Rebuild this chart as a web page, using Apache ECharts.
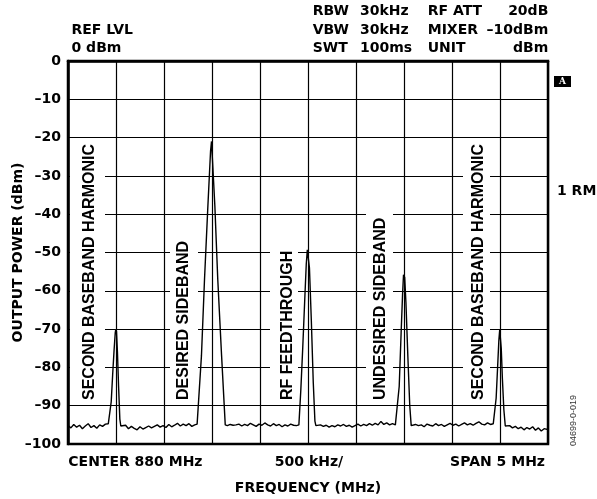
<!DOCTYPE html>
<html>
<head>
<meta charset="utf-8">
<script src="https://cdn.jsdelivr.net/npm/echarts@6/dist/echarts.min.js"></script>
<style>html,body{margin:0;padding:0;background:#fff;}#c{width:597px;height:499px;}</style>
</head>
<body>
<div id="c"></div>
<script>
// ---- data (frequency in MHz, level in dBm) ----
var noiseA = [[877.50,-95.2],[877.53,-95.8],[877.56,-94.9],[877.59,-95.6],[877.62,-95.1],[877.65,-96.0],[877.68,-95.3],[877.71,-94.7],[877.74,-95.7],[877.77,-95.2],[877.80,-95.9],[877.83,-95.0],[877.86,-95.4],[877.89,-94.8],[877.92,-94.7]];
var peak1 = [[877.935,-94.5],[877.95,-89],[877.965,-82],[877.98,-75.5],[877.992,-71],[877.998,-70],[878.005,-70.6],[878.015,-76],[878.027,-85],[878.04,-93.5],[878.05,-95.3]];
var noiseB = [[878.07,-95.6],[878.10,-95.1],[878.13,-96.0],[878.16,-95.4],[878.19,-95.9],[878.22,-96.3],[878.25,-95.5],[878.28,-96.1],[878.31,-95.7],[878.34,-95.3],[878.37,-95.8],[878.40,-95.4],[878.43,-95.0],[878.46,-95.6],[878.49,-95.2],[878.52,-95.7],[878.55,-94.9],[878.58,-95.5],[878.61,-95.1],[878.64,-94.6],[878.67,-95.3],[878.70,-94.8],[878.73,-95.2],[878.76,-94.7],[878.79,-95.4],[878.82,-95.0],[878.845,-94.8]];
var peak2 = [[878.86,-95],[878.89,-77],[878.922,-57],[878.955,-39],[878.985,-23.5],[878.995,-21],[879.003,-21.2],[879.03,-38],[879.06,-57],[879.10,-77],[879.138,-95]];
var noiseC = [[879.16,-95.2],[879.19,-94.9],[879.22,-95.1],[879.25,-95.0],[879.28,-94.8],[879.31,-95.3],[879.34,-94.9],[879.37,-95.2],[879.40,-94.6],[879.43,-95.0],[879.46,-95.4],[879.49,-94.8],[879.52,-95.1],[879.55,-94.5],[879.58,-95.0],[879.61,-95.3],[879.64,-94.7],[879.67,-95.2],[879.70,-94.9],[879.73,-95.5],[879.76,-95.0],[879.79,-95.3],[879.82,-94.8],[879.85,-95.1],[879.88,-95.2]];
var peak3 = [[879.905,-95],[879.925,-86],[879.945,-75],[879.965,-63],[879.982,-53],[879.993,-49.3],[880.003,-49.6],[880.015,-54],[880.035,-68],[880.055,-84],[880.072,-94],[880.082,-95.2]];
var noiseD = [[880.10,-95.3],[880.13,-95.0],[880.16,-95.4],[880.19,-95.1],[880.22,-95.6],[880.25,-95.2],[880.28,-95.5],[880.31,-95.0],[880.34,-95.3],[880.37,-94.9],[880.40,-95.4],[880.43,-95.1],[880.46,-95.6],[880.49,-95.2],[880.52,-94.8],[880.55,-95.3],[880.58,-94.9],[880.61,-95.2],[880.64,-94.7],[880.67,-95.1],[880.70,-94.6],[880.73,-95.0],[880.76,-94.1],[880.79,-94.9],[880.82,-94.5],[880.85,-95.0],[880.88,-94.7],[880.91,-95.0]];
var peak4 = [[880.93,-94.5],[880.95,-85],[880.97,-71],[880.985,-61],[880.995,-55.8],[881.0,-55.4],[881.007,-56.5],[881.02,-63],[881.04,-77],[881.06,-90],[881.075,-95.2]];
var noiseE = [[881.09,-95.4],[881.12,-94.9],[881.15,-95.2],[881.18,-95.0],[881.21,-95.5],[881.24,-94.8],[881.27,-95.1],[881.30,-95.3],[881.33,-94.7],[881.36,-95.2],[881.39,-94.9],[881.42,-95.4],[881.45,-95.0],[881.48,-94.6],[881.51,-95.1],[881.54,-94.8],[881.57,-95.3],[881.60,-94.9],[881.63,-94.5],[881.66,-95.0],[881.69,-94.7],[881.72,-95.1],[881.75,-94.6],[881.78,-94.2],[881.81,-94.8],[881.84,-95.0],[881.87,-94.5],[881.90,-94.9],[881.93,-94.7]];
var peak5 = [[881.945,-94.8],[881.96,-88],[881.975,-80],[881.988,-73],[881.997,-70.2],[882.004,-70.5],[882.013,-75],[882.025,-83],[882.04,-91],[882.055,-95.3]];
var noiseF = [[882.07,-95.5],[882.10,-95.2],[882.13,-95.8],[882.16,-95.4],[882.19,-96.0],[882.22,-95.6],[882.25,-96.3],[882.28,-95.7],[882.31,-96.1],[882.34,-95.5],[882.37,-96.4],[882.40,-95.8],[882.43,-96.6],[882.46,-96.0],[882.49,-96.2],[882.50,-95.9]];

var yTicks = [0,-10,-20,-30,-40,-50,-60,-70,-80,-90,-100];
var peakLabels = ['SECOND BASEBAND HARMONIC','DESIRED SIDEBAND','RF FEEDTHROUGH','UNDESIRED SIDEBAND','SECOND BASEBAND HARMONIC'];
var settingsLeft = ['REF LVL','0 dBm'];
var settingsMid = [['RBW','30kHz'],['VBW','30kHz'],['SWT','100ms']];
var settingsRight = [['RF ATT','20dB'],['MIXER','\u201310dBm'],['UNIT','dBm']];
var xFooter = ['CENTER 880 MHz','500 kHz/','SPAN 5 MHz'];

var trace = [].concat(noiseA, peak1, noiseB, peak2, noiseC, peak3, noiseD, peak4, noiseE, peak5, noiseF);

// ---- chart ----
var chart = echarts.init(document.getElementById('c'), null, {renderer:'canvas'});
var F = '"DejaVu Sans", sans-serif';
var LF = '"Liberation Sans", Arial, sans-serif';
function txt(text, x, y, align, font){
  return {type:'text', z:10, style:{text:text, x:x, y:y, textAlign:align||'left', textVerticalAlign:'middle', font:font||('bold 14px '+F), fill:'#000'}};
}
var g = [];
g.push(txt(settingsLeft[0], 71.5, 30));
g.push(txt(settingsLeft[1], 71.5, 48.5));
var rowsY = [11.7, 30, 48];
settingsMid.forEach(function(r,i){ g.push(txt(r[0], 312.7, rowsY[i])); g.push(txt(r[1], 360, rowsY[i])); });
settingsRight.forEach(function(r,i){ g.push(txt(r[0], 427.7, rowsY[i])); g.push(txt(r[1], 548.3, rowsY[i], 'right')); });
g.push(txt(xFooter[0], 68.3, 462));
g.push(txt(xFooter[1], 309, 462, 'center'));
g.push(txt(xFooter[2], 545, 462, 'right'));
g.push(txt('1 RM', 557, 191.7));
// marker "A" box
g.push({type:'rect', z:10, shape:{x:554, y:76, width:17, height:11}, style:{fill:'#000'}});
g.push({type:'text', z:11, style:{text:'A', x:562.5, y:81.8, textAlign:'center', textVerticalAlign:'middle', font:'bold 9px "DejaVu Serif", serif', fill:'#fff'}});
// figure code
g.push({type:'text', z:10, x:573.5, y:446, rotation:Math.PI/2, style:{text:'04699-0-019', x:0, y:0, textAlign:'left', textVerticalAlign:'middle', font:'9px '+LF, fill:'#333'}});
// in-plot labels with white boxes
var lblX = [89.5, 183.5, 287.5, 380.5, 478.5];
var boxL = [70, 170, 270, 366, 463];
var boxR = [105, 198, 298, 393, 490];
var lblLen = [256, 159, 149, 182, 256];
peakLabels.forEach(function(t,i){
  var top = 400 - lblLen[i] - 4;
  g.push({type:'rect', z:1, shape:{x:boxL[i], y:top, width:boxR[i]-boxL[i], height:403-top}, style:{fill:'#fff'}});
  g.push({type:'text', z:2, x:lblX[i], y:400, rotation:Math.PI/2, style:{text:t, x:0, y:0, textAlign:'left', textVerticalAlign:'middle', font:'bold 16px '+LF, fill:'#000'}});
});
// y-axis title
g.push({type:'text', z:10, x:18, y:252.5, rotation:Math.PI/2, style:{text:'OUTPUT POWER (dBm)', x:0, y:0, textAlign:'center', textVerticalAlign:'middle', font:'bold 14px '+F, fill:'#000'}});

var option = {
  animation:false,
  backgroundColor:'#fff',
  grid:{left:68, top:61, width:480, height:383, containLabel:false, outerBoundsMode:'none', show:true, borderColor:'#000', borderWidth:2.5, backgroundColor:'transparent'},
  xAxis:{type:'value', min:877.5, max:882.5, interval:0.5,
    name:'FREQUENCY (MHz)', nameLocation:'middle', nameGap:37,
    nameTextStyle:{fontFamily:F, fontWeight:'bold', fontSize:14, color:'#000'},
    axisLine:{show:true, lineStyle:{color:'#000', width:2.5}},
    axisTick:{show:false}, axisLabel:{show:false},
    splitLine:{show:true, lineStyle:{color:'#000', width:1.2}}},
  yAxis:{type:'value', min:-100, max:0, interval:10,
    axisLine:{show:true, lineStyle:{color:'#000', width:2.5}},
    axisTick:{show:false},
    axisLabel:{margin:7, fontFamily:F, fontWeight:'bold', fontSize:14, color:'#000',
      formatter:function(v){ return String(v).replace('-', '\u2013'); }},
    splitLine:{show:true, lineStyle:{color:'#000', width:1.2}}},
  series:[{type:'line', data:trace, z:5, showSymbol:false, symbol:'none', smooth:false,
    lineStyle:{color:'#000', width:1.4}}],
  graphic:g
};
chart.setOption(option);
</script>
</body>
</html>
